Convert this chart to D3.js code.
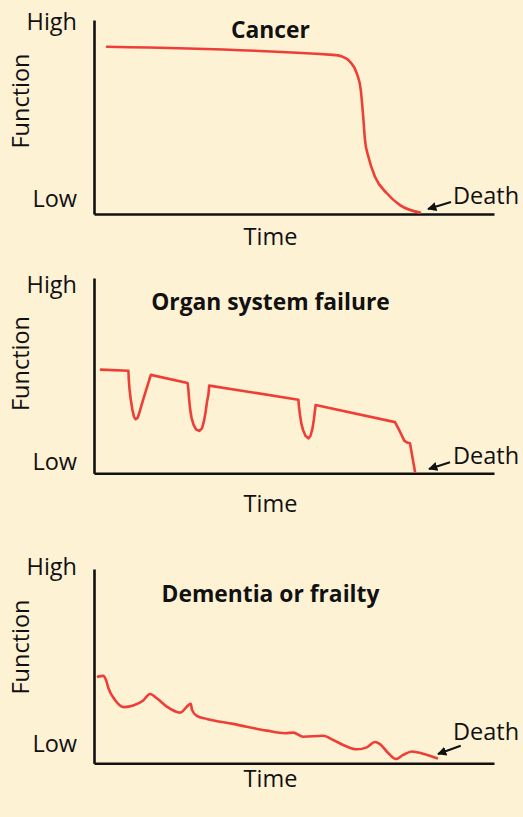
<!DOCTYPE html>
<html>
<head>
<meta charset="utf-8">
<script src="https://cdn.jsdelivr.net/npm/d3@7"></script>
<style>
  html, body { margin: 0; padding: 0; background: #FEF2D5; }
  svg { display: block; }
  text { font-family: "Open Sans", "Noto Sans", sans-serif; fill: #111; }
</style>
</head>
<body>
<svg id="chart" width="523" height="817"></svg>
<script>
// ---- data (time 0-100, function 0-100) ----
const panelTitles = ["Cancer", "Organ system failure", "Dementia or frailty"];
const yTickLabels = ["Low", "High"];
const xAxisLabel = "Time";
const yAxisLabel = "Function";
const endLabel = "Death";

const cancerTime = [3.25, 59.75, 62, 64, 65.7, 66.7, 67.3, 67.75, 68.6, 70.25, 73.2, 76.5, 81.5];
const cancerFunction = [86.2, 82.0, 81.2, 78.5, 72.5, 63.9, 50.2, 38.1, 29.5, 19.2, 10.7, 4.6, 0.7];

const organTime = [1.75, 8.6, 8.7, 8.9, 9.2, 9.6, 10, 10.4, 10.9, 11.4, 11.9, 12.5, 13.2, 14.2,
  23.4, 23.6, 23.75, 24.05, 24.4, 24.9, 25.5, 26.3, 27, 27.5, 27.9, 28.25, 28.6, 28.8,
  51.1, 51.25, 51.5, 51.8, 52.25, 52.9, 53.6, 54.1, 54.6, 54.95, 55.2, 55.4,
  75.25, 76.5, 77.6, 78.25, 79, 80.25];
const organFunction = [53.1, 52.5, 47.8, 42.7, 37.6, 32.5, 28.9, 27.7, 28.4, 31.4, 35.0, 39.1, 43.7, 50.4,
  46.2, 42.7, 38.6, 32.5, 28.3, 24.8, 22.5, 21.7, 23.0, 26.8, 31.4, 36.6, 40.2, 44.9,
  37.7, 34.0, 29.9, 25.8, 22.2, 19.1, 17.9, 19.1, 22.7, 27.3, 31.4, 35.0,
  26.2, 21.3, 16.6, 15.8, 15.4, 0.8];

const frailTime = [1, 2.3, 3, 3.6, 5.25, 7.5, 9.8, 12.3, 14, 15.7, 18.2, 21.5, 24.2, 24.5, 25.7, 28.2,
  34.8, 43.2, 47.75, 49.8, 52.3, 57.3, 59.8, 63.2, 65.7, 68.2, 70.25, 71.5, 73.6, 75.5, 77.3, 79.5, 82.3, 85.75];
const frailFunction = [44.6, 45.0, 42.9, 38.7, 32.6, 28.9, 29.7, 32.3, 35.7, 33.5, 29.2, 26.1, 30.6, 27.5, 24.4, 22.8,
  20.3, 16.8, 15.5, 15.8, 13.7, 14.2, 12.0, 8.6, 7.2, 8.2, 11.0, 9.9, 5.2, 2.2, 4.3, 6.1, 4.9, 2.6];

// ---- layout ----
const layout = [
  { top: 20, bottom: 214, high: 30, low: 207, title: 37.5, time: 245, func: 101, death: 203.5,
    arrow: [[451, 202], [428, 209]], curve: d3.curveMonotoneX },
  { top: 278, bottom: 473.3, high: 293, low: 470, title: 310, time: 511.5, func: 363.5, death: 463.5,
    arrow: [[450, 462.3], [429, 469]], curve: d3.curveLinear },
  { top: 569, bottom: 763.3, high: 575, low: 752, title: 601.5, time: 787, func: 647, death: 739.5,
    arrow: [[460.7, 745.7], [438, 754]], curve: d3.curveMonotoneX }
];
const series = [
  { t: cancerTime, f: cancerFunction },
  { t: organTime, f: organFunction },
  { t: frailTime, f: frailFunction }
];

const svg = d3.select("#chart");
const defs = svg.append("defs");
defs.append("marker")
  .attr("id", "ah").attr("viewBox", "0 0 10 10").attr("refX", 9).attr("refY", 5)
  .attr("markerWidth", 4.2).attr("markerHeight", 4.2).attr("orient", "auto")
  .attr("markerUnits", "strokeWidth")
  .append("path").attr("d", "M0,0 L10,5 L0,10 Z").attr("fill", "#111");

const x = d3.scaleLinear().domain([0, 100]).range([94, 494]);
const LABEL_SIZE = 23.5;

layout.forEach((L, i) => {
  const y = d3.scaleLinear().domain([0, 100]).range([L.bottom, L.top]);
  const g = svg.append("g");

  // axes
  const yAxis = d3.axisLeft(y).tickValues([]).tickSizeOuter(0);
  const xAxis = d3.axisBottom(x).tickValues([]).tickSizeOuter(0);
  g.append("g").attr("transform", `translate(${x(0)},0)`).call(yAxis)
    .call(s => s.select(".domain").attr("stroke", "#111").attr("stroke-width", 2.6));
  g.append("g").attr("transform", `translate(0,${y(0)})`).call(xAxis)
    .call(s => s.select(".domain").attr("stroke", "#111").attr("stroke-width", 2.6));

  // tick labels
  g.append("text").attr("x", 77).attr("y", L.low).attr("text-anchor", "end")
    .attr("font-size", LABEL_SIZE).text(yTickLabels[0]);
  g.append("text").attr("x", 77).attr("y", L.high).attr("text-anchor", "end")
    .attr("font-size", LABEL_SIZE).text(yTickLabels[1]);

  // axis titles
  g.append("text").attr("x", 270.5).attr("y", L.time).attr("text-anchor", "middle")
    .attr("font-size", LABEL_SIZE).text(xAxisLabel);
  g.append("text").attr("transform", `translate(28.5,${L.func}) rotate(-90)`)
    .attr("text-anchor", "middle").attr("font-size", LABEL_SIZE).text(yAxisLabel);

  // panel title
  g.append("text").attr("x", 270.5).attr("y", L.title).attr("text-anchor", "middle")
    .attr("font-size", 22.8).attr("font-weight", "bold").text(panelTitles[i]);

  // data line
  const s = series[i];
  const pts = s.t.map((t, k) => [t, s.f[k]]);
  g.append("path").datum(pts)
    .attr("fill", "none").attr("stroke", "#EF3E36").attr("stroke-width", 2.6)
    .attr("stroke-linejoin", "round").attr("stroke-linecap", "round")
    .attr("d", d3.line().x(d => x(d[0])).y(d => y(d[1])).curve(L.curve));

  // death label + arrow
  g.append("text").attr("x", 453).attr("y", L.death).attr("font-size", LABEL_SIZE).text(endLabel);
  g.append("line")
    .attr("x1", L.arrow[0][0]).attr("y1", L.arrow[0][1])
    .attr("x2", L.arrow[1][0]).attr("y2", L.arrow[1][1])
    .attr("stroke", "#111").attr("stroke-width", 2.2)
    .attr("marker-end", "url(#ah)");
});
</script>
</body>
</html>
